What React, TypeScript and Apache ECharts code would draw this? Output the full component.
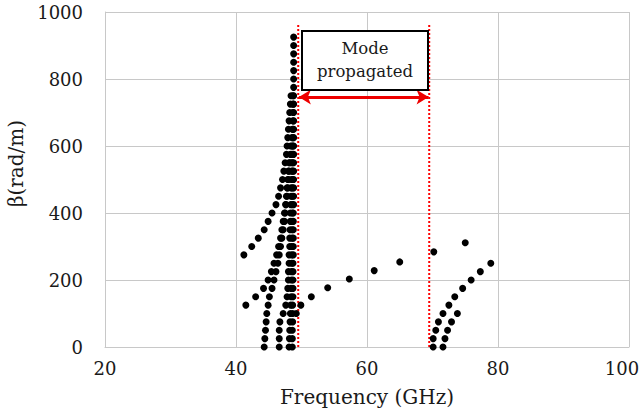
import React, { useEffect, useRef } from "react";
import * as echarts from "echarts";

// Frequency (GHz), beta (rad/m) pairs
const branchA: [number, number][] = [
  [44.3, 0], [44.4, 25], [44.5, 50], [44.6, 75], [44.7, 100], [44.9, 125], [45.1, 150],
  [45.5, 175], [45.8, 200], [46.1, 225], [46.4, 250], [46.6, 275], [46.8, 300], [47.0, 325],
  [47.2, 350], [47.4, 375], [47.5, 400], [47.6, 425], [47.7, 450], [47.8, 475], [47.9, 500],
  [48.0, 525], [48.1, 550],
];
const branchB: [number, number][] = [
  [46.6, 0], [46.6, 25], [46.6, 50], [46.7, 75], [47.2, 100], [47.6, 125], [47.8, 150],
  [47.9, 175], [48.0, 200], [48.0, 225], [48.1, 250], [48.1, 275], [48.2, 300], [48.2, 325],
  [48.25, 350], [48.3, 375], [48.3, 400], [48.35, 425], [48.4, 450], [48.4, 475], [48.45, 500],
  [48.5, 525], [48.5, 550], [48.5, 575], [48.55, 600], [48.55, 625], [48.6, 650],
];
const branchC: [number, number][] = [
  [48.1, 0], [48.15, 25], [48.2, 50], [48.25, 75], [48.3, 100], [48.35, 125], [48.4, 150],
  [48.4, 175], [48.45, 200], [48.45, 225], [48.5, 250], [48.5, 275], [48.5, 300], [48.55, 325],
  [48.55, 350], [48.55, 375], [48.6, 400], [48.6, 425], [48.6, 450], [48.6, 475], [48.65, 500],
  [48.65, 525], [48.65, 550], [48.65, 575], [48.7, 600], [48.7, 625], [48.7, 650], [48.7, 675],
  [48.7, 700], [48.7, 725], [48.7, 750],
];
const branchD: [number, number][] = [
  [48.6, 0], [48.6, 25], [48.6, 50], [48.65, 75], [48.65, 100], [48.65, 125], [48.7, 150],
  [48.7, 175], [48.7, 200], [48.7, 225], [48.7, 250], [48.75, 275], [48.75, 300], [48.75, 325],
  [48.75, 350], [48.75, 375], [48.75, 400], [48.8, 425], [48.8, 450], [48.8, 475], [48.8, 500],
  [48.8, 525], [48.8, 550], [48.8, 575], [48.8, 600], [48.8, 625], [48.8, 650], [48.8, 675],
  [48.8, 700], [48.8, 725], [48.8, 750], [48.8, 775], [48.8, 800], [48.8, 825], [48.8, 850],
  [48.8, 875], [48.8, 900], [48.8, 925],
];
const lowerLeft: [number, number][] = [
  [41.5, 125], [43.0, 150], [44.2, 175], [44.9, 200], [45.4, 225], [45.8, 250], [46.2, 275],
  [46.5, 300], [46.8, 325], [47.0, 350], [47.2, 375], [47.4, 400], [47.6, 425], [47.8, 450],
  [47.9, 475], [48.0, 500], [48.1, 525], [48.2, 550], [48.3, 575], [48.35, 600],
];
const upperLeft: [number, number][] = [
  [41.2, 275], [42.4, 300], [43.4, 325], [44.3, 350], [44.9, 375], [45.5, 400], [46.1, 425],
  [46.5, 450], [46.8, 475], [47.1, 500], [47.3, 525], [47.5, 550], [47.7, 575], [47.8, 600],
  [47.9, 625], [48.0, 650], [48.1, 675], [48.2, 700], [48.3, 725], [48.4, 750],
];
const middleBranch: [number, number][] = [
  [49.2, 100], [49.9, 125], [51.5, 150], [54.0, 177], [57.3, 203], [61.1, 228], [65.0, 254],
  [70.2, 284], [75.0, 311],
];
const rightA: [number, number][] = [
  [70.1, 0], [70.1, 25], [70.5, 50], [70.9, 75], [71.6, 100], [72.5, 125], [73.4, 150],
  [74.6, 175], [75.9, 200], [77.3, 225], [78.9, 250],
];
const rightB: [number, number][] = [
  [71.6, 0], [71.9, 25], [72.3, 50], [72.9, 75], [73.8, 100],
];

const bandLow = 49.5;
const bandHigh = 69.5;
const bandTop = 967;
const arrowBeta = 746;

const xTicks = { min: 20, max: 100, interval: 20 };
const yTicks = { min: 0, max: 1000, interval: 200 };

const FONT = '"DejaVu Serif", serif';
const GRID_COLOR = "#c8c8c8";

export default function App() {
  const ref = useRef<HTMLDivElement>(null);
  useEffect(() => {
    if (!ref.current) return;
    const chart = echarts.init(ref.current, null, { renderer: "svg" });
    const dotSeries = [branchA, branchB, branchC, branchD, lowerLeft, upperLeft, middleBranch, rightA, rightB].map(
      (d) => ({
        type: "scatter",
        data: d,
        symbol: "circle",
        symbolSize: 7,
        itemStyle: { color: "#000", opacity: 1 },
        z: 3,
      })
    );
    chart.setOption({
      animation: false,
      grid: { left: 105, right: 13, top: 12, bottom: 62, outerBoundsMode: "none", containLabel: false },
      xAxis: {
        type: "value",
        ...xTicks,
        name: "Frequency (GHz)",
        nameLocation: "middle",
        nameGap: 40,
        nameTextStyle: { fontFamily: FONT, fontSize: 20, color: "#1a1a1a" },
        axisLine: { show: true, lineStyle: { color: GRID_COLOR } },
        axisTick: { show: false },
        axisLabel: {
          fontFamily: FONT,
          fontSize: 18,
          color: "#1a1a1a",
          margin: 12,
          formatter: (v: number) => (v === xTicks.max ? `{last|${v}}` : String(v)),
          rich: { last: { fontFamily: FONT, fontSize: 18, color: "#1a1a1a", padding: [0, 14, 0, 0] } },
        },
        splitLine: { show: true, lineStyle: { color: GRID_COLOR } },
      },
      yAxis: {
        type: "value",
        ...yTicks,
        name: "β(rad/m)",
        nameLocation: "middle",
        nameGap: 71,
        nameTextStyle: { fontFamily: FONT, fontSize: 20, color: "#1a1a1a", padding: [0, 0, 0, 32] },
        axisLine: { show: true, lineStyle: { color: GRID_COLOR } },
        axisTick: { show: false },
        axisLabel: { fontFamily: FONT, fontSize: 18, color: "#1a1a1a", margin: 22, formatter: (v: number) => String(v) },
        splitLine: { show: true, lineStyle: { color: GRID_COLOR } },
      },
      series: [
        {
          type: "line",
          data: [[bandLow, 0], [bandLow, bandTop]],
          showSymbol: false,
          symbol: "none",
          lineStyle: { color: "#ff0000", type: "dotted", width: 2 },
          z: 2,
        },
        {
          type: "line",
          data: [[bandHigh, 0], [bandHigh, bandTop]],
          showSymbol: false,
          symbol: "none",
          lineStyle: { color: "#ff0000", type: "dotted", width: 2 },
          z: 2,
          markLine: {
            silent: true,
            symbol: ["arrow", "arrow"],
            symbolSize: [11, 12],
            label: { show: false },
            lineStyle: { color: "#ee0000", type: "solid", width: 3 },
            data: [[{ coord: [bandLow + 0.1, arrowBeta] }, { coord: [bandHigh - 0.1, arrowBeta] }]],
          },
        },
        ...dotSeries,
      ],
      graphic: [
        {
          type: "rect",
          shape: { x: 302, y: 31, width: 126, height: 59 },
          style: { fill: "#fff", stroke: "#000", lineWidth: 2 },
          z: 10,
        },
        {
          type: "text",
          x: 365,
          y: 60,
          z: 11,
          style: {
            text: "Mode\npropagated",
            fontFamily: FONT,
            fontSize: 16.5,
            lineHeight: 23,
            fill: "#1a1a1a",
            align: "center",
            verticalAlign: "middle",
          },
        },
      ],
    });
    return () => chart.dispose();
  }, []);
  return (
    <div
      ref={ref}
      style={{ position: "fixed", left: 0, top: 0, width: 642, height: 409, background: "#fff" }}
    />
  );
}
